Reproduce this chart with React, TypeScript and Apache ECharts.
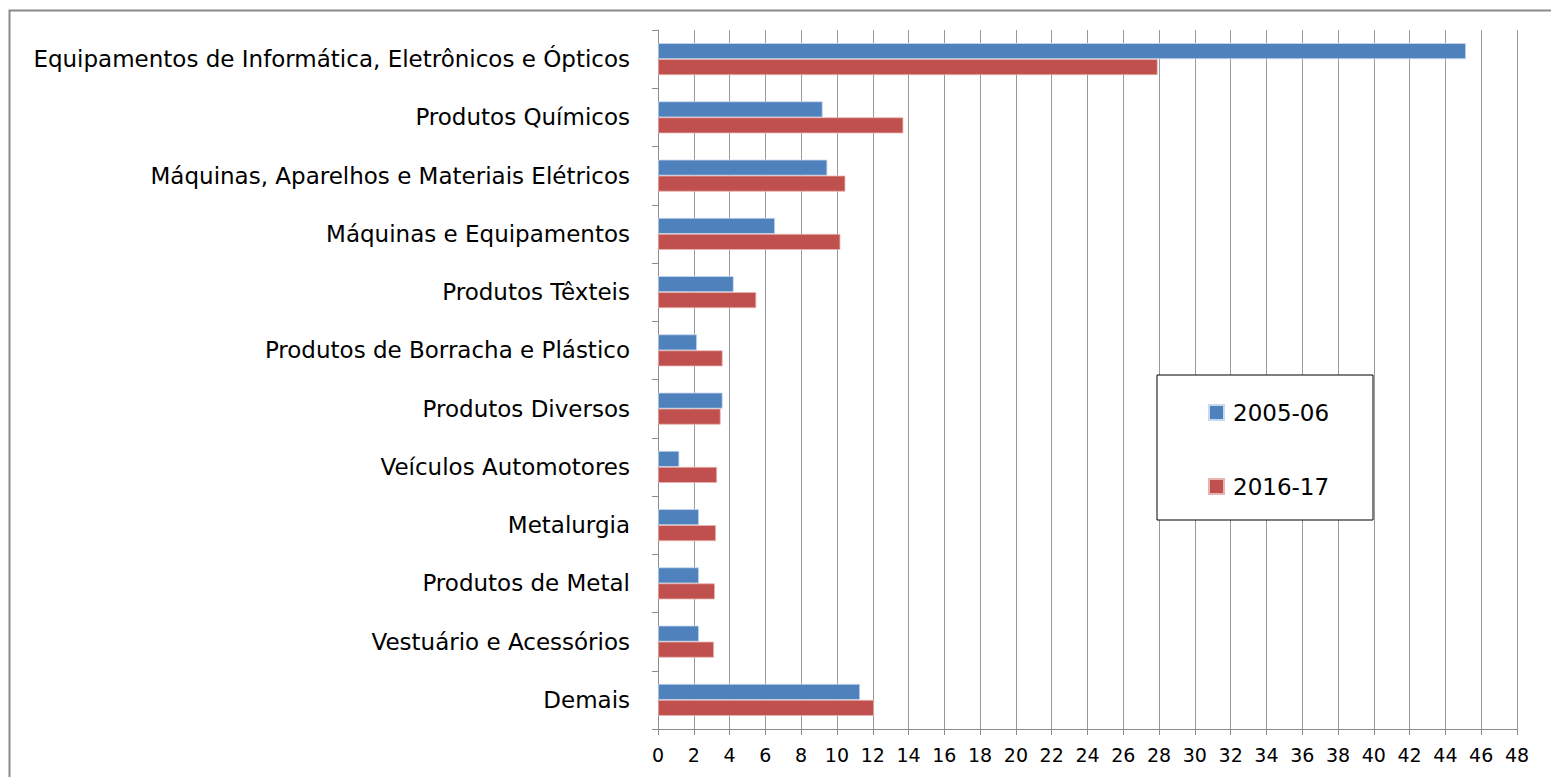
import React, { useEffect, useRef } from "react";
import * as echarts from "echarts";

const categories = [
  "Equipamentos de Informática, Eletrônicos e Ópticos",
  "Produtos Químicos",
  "Máquinas, Aparelhos e Materiais Elétricos",
  "Máquinas e Equipamentos",
  "Produtos Têxteis",
  "Produtos de Borracha e Plástico",
  "Produtos Diversos",
  "Veículos Automotores",
  "Metalurgia",
  "Produtos de Metal",
  "Vestuário e Acessórios",
  "Demais",
];

const series2005 = [45.15, 9.2, 9.46, 6.54, 4.23, 2.18, 3.61, 1.19, 2.29, 2.29, 2.29, 11.29];
const series2016 = [27.92, 13.71, 10.47, 10.19, 5.49, 3.61, 3.5, 3.3, 3.24, 3.18, 3.13, 12.07];

const seriesNames = ["2005-06", "2016-17"];
const xTicks = { min: 0, max: 48, interval: 2 };

const FONT = "'DejaVu Sans', 'Open Sans', sans-serif";

export default function App() {
  const ref = useRef<HTMLDivElement>(null);
  useEffect(() => {
    if (!ref.current) return;
    const chart = echarts.init(ref.current, undefined, { renderer: "svg" });
    chart.setOption({
      animation: false,
      backgroundColor: "#ffffff",
      grid: { left: 658, right: 34, top: 30, bottom: 48, containLabel: false },
      xAxis: {
        type: "value",
        min: xTicks.min,
        max: xTicks.max,
        interval: xTicks.interval,
        axisLine: { show: true, lineStyle: { color: "#8c8c8c", width: 1 } },
        axisTick: { show: true, length: 6, lineStyle: { color: "#8c8c8c" } },
        axisLabel: { color: "#000", fontSize: 19, fontFamily: FONT, margin: 16 },
        splitLine: { show: true, lineStyle: { color: "#9a9a9a", width: 1 } },
      },
      yAxis: {
        type: "category",
        data: categories,
        inverse: true,
        axisLine: { show: true, lineStyle: { color: "#8c8c8c", width: 1 } },
        axisTick: { show: true, length: 6, alignWithLabel: false, lineStyle: { color: "#8c8c8c" } },
        axisLabel: { color: "#000", fontSize: 23, fontFamily: FONT, margin: 28 },
        splitLine: { show: false },
      },
      legend: {
        orient: "vertical",
        left: 1208,
        top: 401,
        padding: 0,
        itemWidth: 15,
        itemHeight: 15,
        itemGap: 51,
        icon: "rect",
        textStyle: { color: "#000", fontSize: 23, fontFamily: FONT, lineHeight: 22, padding: [0, 0, 0, 4] },
        data: seriesNames,
      },
      graphic: [
        {
          type: "rect",
          z: 3,
          shape: { x: 1157, y: 375, width: 216, height: 145 },
          style: { fill: "#ffffff", stroke: "#000000", lineWidth: 1 },
        },
        {
          type: "rect",
          z: 10,
          silent: true,
          shape: { x: 9.5, y: 10.5, width: 1700, height: 900 },
          style: { fill: "none", stroke: "#8a8a8a", lineWidth: 2 },
        },
      ],
      series: [
        {
          name: seriesNames[0],
          type: "bar",
          data: series2005,
          barWidth: 16,
          barGap: "0%",
          itemStyle: { color: "#4F81BD", borderColor: "#c8d8ee", borderWidth: 0.8 },
        },
        {
          name: seriesNames[1],
          type: "bar",
          data: series2016,
          barWidth: 16,
          barGap: "0%",
          itemStyle: { color: "#C0504D", borderColor: "#e8b4b2", borderWidth: 0.8 },
        },
      ],
    });
    return () => chart.dispose();
  }, []);
  return (
    <div
      ref={ref}
      style={{ position: "fixed", left: 0, top: 0, width: 1551, height: 777 }}
    />
  );
}
